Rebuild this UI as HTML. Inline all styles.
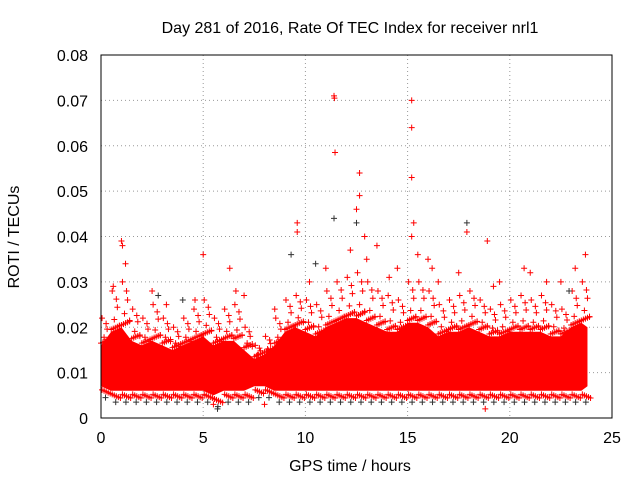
<!DOCTYPE html>
<html><head><meta charset="utf-8"><style>
body{margin:0;background:#fff;width:640px;height:480px;overflow:hidden}
svg text{font-family:"Liberation Sans",sans-serif;font-size:16px;fill:#000}
</style></head><body>
<svg id="c" width="640" height="480">
<text x="350" y="33" text-anchor="middle" font-size="15">Day 281 of 2016, Rate Of TEC Index for receiver nrl1</text>
<text x="350" y="471" text-anchor="middle">GPS time / hours</text>
<text x="0" y="0" transform="translate(19,237) rotate(-90)" text-anchor="middle">ROTI / TECUs</text>
<g id="grid"></g><g id="band"></g><g id="pts"></g><g id="axes"></g>
</svg>
<script>
const xTicks=[0,5,10,15,20,25];
const yTicks=[0,0.01,0.02,0.03,0.04,0.05,0.06,0.07,0.08];
const yLabels=["0","0.01","0.02","0.03","0.04","0.05","0.06","0.07","0.08"];
const binTimes=[0,0.5,1,1.5,2,2.5,3,3.5,4,4.5,5,5.5,6,6.5,7,7.5,8,8.5,9,9.5,10,10.5,11,11.5,12,12.5,13,13.5,14,14.5,15,15.5,16,16.5,17,17.5,18,18.5,19,19.5,20,20.5,21,21.5,22,22.5,23,23.5,23.8];
const upper=[0.022,0.028,0.030,0.024,0.022,0.025,0.022,0.020,0.022,0.024,0.026,0.022,0.024,0.025,0.020,0.016,0.018,0.022,0.026,0.027,0.026,0.025,0.028,0.030,0.031,0.032,0.030,0.028,0.027,0.026,0.030,0.030,0.028,0.025,0.026,0.027,0.028,0.026,0.024,0.025,0.026,0.027,0.026,0.027,0.025,0.024,0.028,0.030,0.029];
const core=[0.016,0.019,0.020,0.017,0.016,0.017,0.016,0.015,0.016,0.017,0.018,0.016,0.017,0.017,0.015,0.013,0.014,0.016,0.019,0.020,0.019,0.018,0.020,0.021,0.022,0.022,0.021,0.020,0.019,0.019,0.021,0.021,0.020,0.018,0.019,0.019,0.020,0.019,0.018,0.018,0.019,0.019,0.019,0.019,0.018,0.018,0.020,0.021,0.020];
const lower=[0.007,0.006,0.006,0.006,0.006,0.006,0.006,0.006,0.006,0.006,0.006,0.005,0.006,0.006,0.006,0.007,0.007,0.006,0.006,0.006,0.006,0.006,0.006,0.006,0.006,0.006,0.006,0.006,0.006,0.006,0.006,0.006,0.006,0.006,0.006,0.006,0.006,0.006,0.006,0.006,0.006,0.006,0.006,0.006,0.006,0.006,0.006,0.006,0.007];
const outT=[11.4,11.42,11.45,11.4,15.2,15.2,15.2,12.65,12.65,12.5,12.5,15.3,15.2,1,1.05,9.6,9.6,17.9,17.9,18.9,5,23.7,13.5,6.3,10.5,12.2,16,21,22.5,0.6,2.5,4,7,8.5,14.5,19.5,20.7,3.2,9.3,11,13,16.5,17.5,23.2,5.5,5.7,18.8,8,1.2,12.9,15.5,16.2,2.8,4.6,6.6,10.2,14.1,19.2,21.8,22.9];
const outV=[0.071,0.0705,0.0585,0.044,0.070,0.064,0.053,0.054,0.049,0.046,0.043,0.043,0.040,0.039,0.038,0.043,0.041,0.043,0.041,0.039,0.036,0.036,0.038,0.033,0.034,0.037,0.035,0.032,0.030,0.029,0.028,0.026,0.027,0.024,0.033,0.030,0.033,0.025,0.036,0.033,0.035,0.030,0.032,0.033,0.003,0.002,0.002,0.003,0.034,0.040,0.036,0.033,0.027,0.026,0.028,0.030,0.031,0.029,0.030,0.028];
const X=t=>101+t*(612-101)/25, Y=v=>418-v*(418-55)/0.08;
const NS='http://www.w3.org/2000/svg';
function mk(p,tag,a){const e=document.createElementNS(NS,tag);for(const k in a)e.setAttribute(k,a[k]);document.getElementById(p).appendChild(e);return e;}
xTicks.forEach(t=>{const l=mk('grid','line',{x1:X(t),x2:X(t),y1:55,y2:418,stroke:'#999','stroke-dasharray':'1,3'});


const tx=mk('axes','text',{x:X(t),y:443,'text-anchor':'middle'});tx.textContent=t;

});
yTicks.forEach((v,i)=>{const l=mk('grid','line',{x1:101,x2:612,y1:Y(v),y2:Y(v),stroke:'#999','stroke-dasharray':'1,3'});


const tx=mk('axes','text',{x:88,y:Y(v)+6,'text-anchor':'end'});tx.textContent=yLabels[i];

});
mk('axes','rect',{x:101,y:55,width:511,height:363,fill:'none',stroke:'#000'});
let d='M'+binTimes.map((t,i)=>X(t)+','+Y(core[i])).join('L')+'L'+binTimes.slice().reverse().map((t,i)=>X(t)+','+Y(lower[lower.length-1-i])).join('L')+'Z';
const band=mk('band','path',{d:d,fill:'#ff0000'});


function cross(t,v,col){const x=X(t),y=Y(v);const p=mk('pts','path',{d:`M${x-3},${y}h6M${x},${y-3}v6`,stroke:col,'stroke-width':1});

}
const fr=[0,0.1,0.2,0.3,0.4];
binTimes.forEach((t,i)=>{
 if(t>23.7) return;
 const g=upper[i]-core[i];
 cross(t+0.05,upper[i],'red');
 cross(t+0.3,core[i]+g*0.6,'red');
 cross(t+0.15,core[i]+g*0.3,'red');
 cross(t+0.4,core[i]+g*0.15,'red');
 cross(t+0.25,core[i]+g*0.8,'red');
 fr.forEach(f=>{cross(t+f,core[i]+0.0005+f*0.002,'red');cross(t+f+0.05,lower[i]-0.0008-f*0.002,'red');});
 cross(t+0.22,lower[i]-0.0025,'#333');
});
outT.forEach((t,i)=>cross(t,outV[i],i%7==3?'#333':'red'));
</script>
</body></html>
